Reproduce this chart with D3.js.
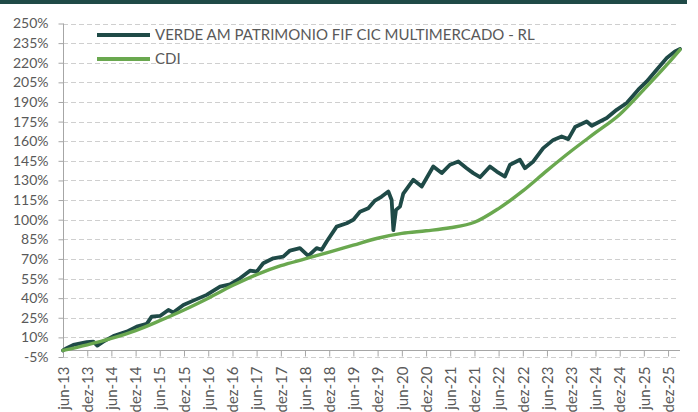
<!DOCTYPE html>
<html>
<head>
<meta charset="utf-8">
<script src="https://cdn.jsdelivr.net/npm/d3@7"></script>
<style>
  html, body { margin: 0; padding: 0; background: #fff; overflow: hidden; }
  svg { display: block; }
  text { font-family: Lato, "Open Sans", sans-serif; fill: #595959; }
</style>
</head>
<body>
<svg id="chart" width="698" height="412"></svg>
<script>
// ---- data ----
const seriesNames = ["VERDE AM PATRIMONIO FIF CIC MULTIMERCADO - RL", "CDI"];

const fundDates = ["2013-06-01","2013-06-29","2013-08-18","2013-11-27","2014-01-16","2014-02-15","2014-04-01","2014-06-16","2014-09-25","2014-12-09","2015-02-23","2015-04-01","2015-06-03","2015-08-05","2015-09-11","2015-11-26","2016-02-09","2016-05-20","2016-08-29","2016-11-12","2017-01-27","2017-04-12","2017-06-02","2017-07-21","2017-10-05","2017-12-19","2018-02-08","2018-04-24","2018-06-26","2018-08-28","2018-10-05","2018-11-12","2019-01-26","2019-04-12","2019-06-01","2019-07-21","2019-09-22","2019-11-11","2020-01-01","2020-02-20","2020-03-16","2020-03-29","2020-04-18","2020-05-18","2020-06-12","2020-08-26","2020-10-29","2021-01-24","2021-03-29","2021-05-30","2021-08-01","2021-10-03","2021-11-22","2022-01-12","2022-03-28","2022-05-18","2022-07-19","2022-08-26","2022-11-09","2022-12-17","2023-02-18","2023-05-04","2023-07-19","2023-09-20","2023-11-09","2023-12-30","2024-03-27","2024-05-04","2024-07-05","2024-08-25","2024-11-08","2025-01-23","2025-04-20","2025-06-23","2025-09-06","2025-11-21","2026-01-22","2026-03-01"];
const fundValues = [0,1.7,4.2,6.3,6.7,3.7,6.7,11,14.4,18.2,20.3,25.9,26.4,31,29,34.8,38.1,42.5,48.8,50.6,55.2,61,60.3,66.7,70.5,71.8,76.4,78.2,72.3,78.2,77,83.3,94.7,97.3,99.9,106,108.8,114.6,117.7,121.5,115,92,107.5,110,120,130.5,125.4,140.7,135.6,142,144.5,139.4,135.6,132.5,140.7,136.8,133,142,145.8,139.4,144.5,154.7,161,163.6,161.6,170.8,175.1,171.8,175.1,177.7,184,189.2,199.4,205.7,214.7,223.6,228.7,230.5];

const cdiDates = ["2013-06-01","2013-12-01","2014-06-01","2014-12-01","2015-06-01","2015-12-01","2016-06-01","2016-12-01","2017-06-01","2017-12-01","2018-06-01","2018-12-01","2019-06-01","2019-12-01","2020-06-01","2020-12-01","2021-06-01","2021-12-01","2022-06-01","2022-12-01","2023-06-01","2023-12-01","2024-06-01","2024-12-01","2025-06-01","2025-12-01","2026-03-01"];
const cdiValues = [0,4.3,9.2,15.2,22.8,31,40,49.6,58,64.8,70,75.2,80.5,85.8,89.5,91.5,93.8,98,108.5,122,137.5,152.5,166.5,180.5,199.5,219.5,230];

const yTicks = [-5,10,25,40,55,70,85,100,115,130,145,160,175,190,205,220,235,250];
const xTickDates = ["2013-06-01","2013-12-01","2014-06-01","2014-12-01","2015-06-01","2015-12-01","2016-06-01","2016-12-01","2017-06-01","2017-12-01","2018-06-01","2018-12-01","2019-06-01","2019-12-01","2020-06-01","2020-12-01","2021-06-01","2021-12-01","2022-06-01","2022-12-01","2023-06-01","2023-12-01","2024-06-01","2024-12-01","2025-06-01","2025-12-01"];
const monthNames = ["jan","fev","mar","abr","mai","jun","jul","ago","set","out","nov","dez"];

// ---- chart ----
const parse = d3.timeParse("%Y-%m-%d");
const svg = d3.select("#chart");
const colors = ["#1f4a47", "#6aa84f"];

const x = d3.scaleTime()
  .domain([parse("2013-06-01"), parse("2026-03-01")])
  .range([63, 680]);
const y = d3.scaleLinear().domain([-5, 250]).range([357, 23.5]);

// top bar
svg.append("rect").attr("x", 0).attr("y", 0).attr("width", 687).attr("height", 4).attr("fill", "#1f4a47");

// gridlines
svg.append("g").selectAll("line").data(yTicks).join("line")
  .attr("x1", 63).attr("x2", 677)
  .attr("y1", d => Math.round(y(d)) + 0.5).attr("y2", d => Math.round(y(d)) + 0.5)
  .attr("stroke", "#cfcfcf").attr("stroke-width", 1).attr("stroke-dasharray", "5,3");

// y axis
const yAxis = d3.axisLeft(y).tickValues(yTicks).tickSize(5).tickPadding(10)
  .tickFormat(d => d + "%");
const gy = svg.append("g").attr("transform", "translate(63.5,0)").call(yAxis);
gy.select(".domain").attr("stroke", "#a6a6a6").attr("d", `M0,${y(250)}V${y(-5)}`);
gy.selectAll(".tick line").attr("stroke", "#a6a6a6");
gy.selectAll(".tick text").style("font-size", "14px").attr("fill", "#595959")
  .attr("font-family", "Lato, sans-serif");

// x axis at 0%
const xt = xTickDates.map(parse);
const xAxis = d3.axisBottom(x).tickValues(xt).tickSize(6)
  .tickFormat(d => monthNames[d.getMonth()] + "-" + String(d.getFullYear()).slice(2));
const gx = svg.append("g").attr("transform", `translate(0,${Math.round(y(0)) + 0.5})`).call(xAxis);
gx.select(".domain").attr("stroke", "#a6a6a6").attr("d", `M63,0H680`);
gx.selectAll(".tick line").attr("stroke", "#a6a6a6");
gx.selectAll(".tick text")
  .style("font-size", "15px").attr("fill", "#595959").attr("font-family", "Lato, sans-serif")
  .attr("text-anchor", "end")
  .attr("transform", "rotate(-90)")
  .attr("x", -16).attr("y", 0).attr("dy", "0.35em");

// lines
const line = d3.line().x(d => x(d[0])).y(d => y(d[1])).curve(d3.curveLinear);
const fundData = fundDates.map((d, i) => [parse(d), fundValues[i]]);
const cdiData = cdiDates.map((d, i) => [parse(d), cdiValues[i]]);

svg.append("path").datum(fundData).attr("d", line)
  .attr("fill", "none").attr("stroke", colors[0]).attr("stroke-width", 3.8)
  .attr("stroke-linejoin", "round").attr("stroke-linecap", "round");
svg.append("path").datum(cdiData).attr("d", line.curve(d3.curveMonotoneX))
  .attr("fill", "none").attr("stroke", colors[1]).attr("stroke-width", 3.4)
  .attr("stroke-linejoin", "round").attr("stroke-linecap", "round");

// legend
const legend = svg.append("g");
seriesNames.forEach((name, i) => {
  const ly = 35 + i * 24;
  legend.append("line").attr("x1", 97).attr("x2", 150).attr("y1", ly).attr("y2", ly)
    .attr("stroke", colors[i]).attr("stroke-width", 4);
  legend.append("text").attr("x", 155).attr("y", ly).attr("dy", "0.35em")
    .style("font-size", "15px").text(name);
});
</script>
</body>
</html>
